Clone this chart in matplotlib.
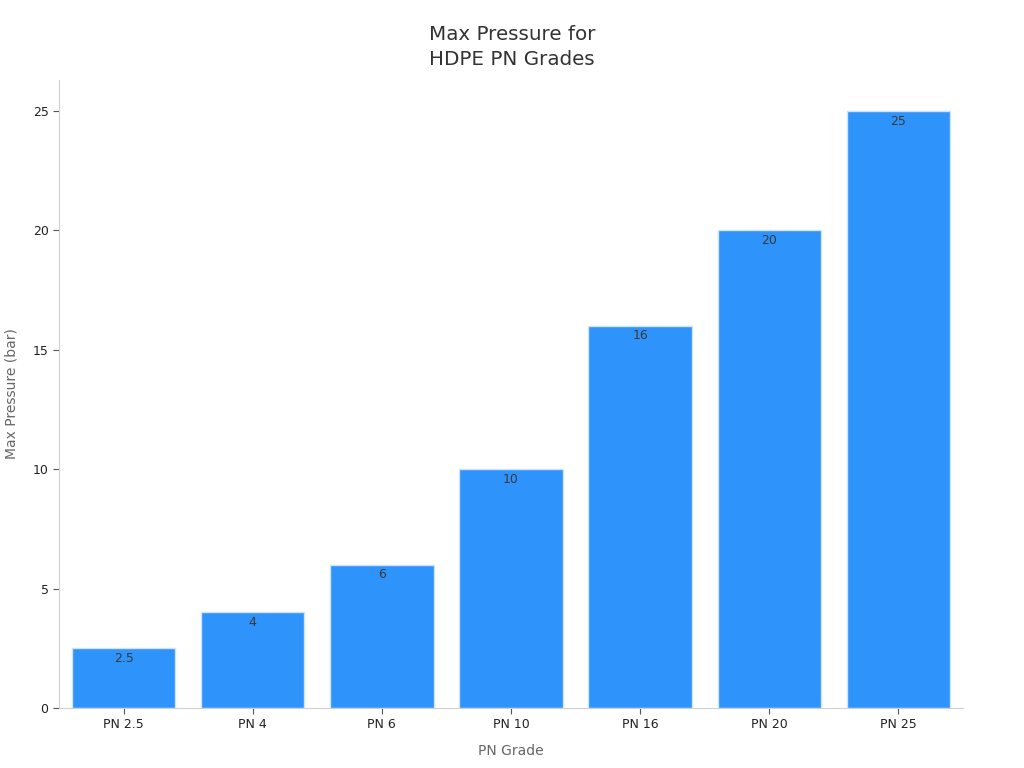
import matplotlib
matplotlib.use("Agg")
import matplotlib.pyplot as plt

categories = ["PN 2.5", "PN 4", "PN 6", "PN 10", "PN 16", "PN 20", "PN 25"]
values = [2.5, 4, 6, 10, 16, 20, 25]
labels = ["2.5", "4", "6", "10", "16", "20", "25"]

plt.rcParams['font.family'] = ['DejaVu Sans']
fig = plt.figure(figsize=(10.24, 7.68), dpi=100)
ax = fig.add_axes([59/1024, 60/768, (963-59)/1024, (708-80)/768])

x = list(range(len(categories)))
bars = ax.bar(x, values, width=0.8, color="#2E93FA", edgecolor="#cfe3fb", linewidth=1)
for xi, v, lab in zip(x, values, labels):
    ax.annotate(lab, (xi, v), xytext=(0, -2.5), textcoords="offset points",
                ha="center", va="top", fontsize=9, color="#3a3a3a")

ax.set_xlim(-0.5, 6.5)
ax.set_ylim(0, 26.3)
ax.set_xticks(x)
ax.set_xticklabels(categories)
ax.set_yticks([0, 5, 10, 15, 20, 25])
for s in ["top", "right"]:
    ax.spines[s].set_visible(False)
for s in ["left", "bottom"]:
    ax.spines[s].set_color("#d0d0d0")
ax.tick_params(axis="both", colors="#555555", labelcolor="#222222", labelsize=9, length=4)
ax.set_xlabel("PN Grade", fontsize=10, color="#666666", labelpad=9)
ax.set_ylabel("Max Pressure (bar)", fontsize=10, color="#666666", labelpad=10)
fig.suptitle("Max Pressure for\nHDPE PN Grades", fontsize=14.3, color="#333333",
             y=0.968, linespacing=1.4)
fig.savefig("out.png", dpi=100)
